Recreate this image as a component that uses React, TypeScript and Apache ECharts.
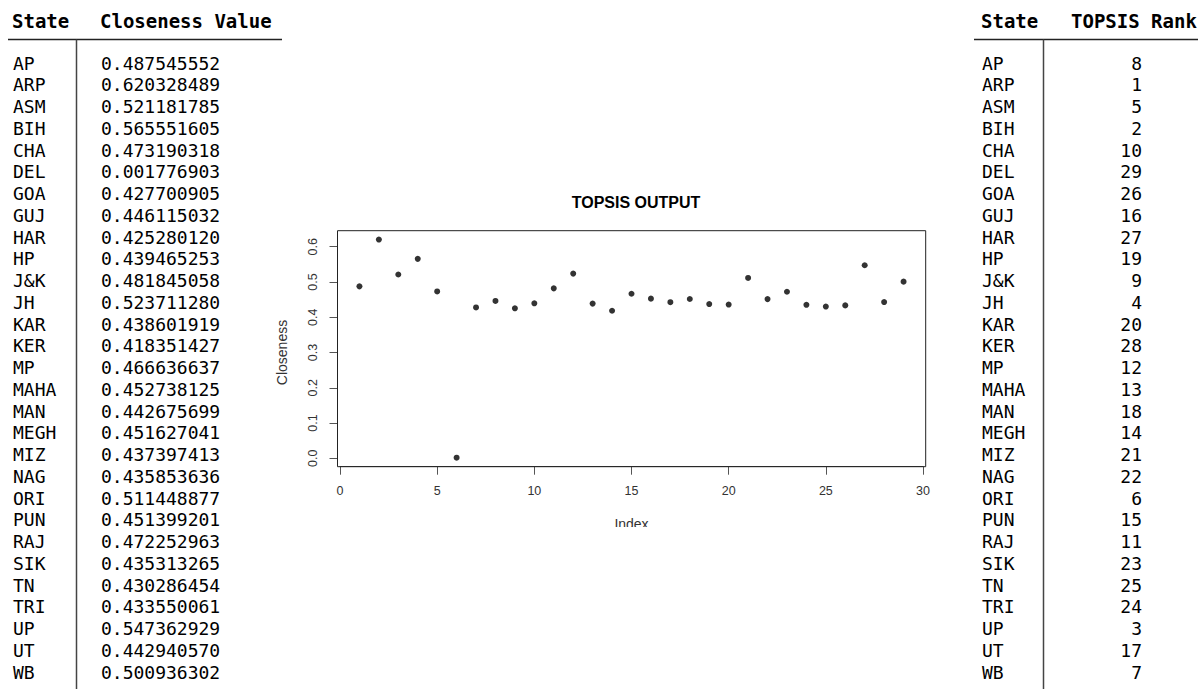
import React, { useEffect, useRef } from 'react';
import * as echarts from 'echarts';

const states = ['AP','ARP','ASM','BIH','CHA','DEL','GOA','GUJ','HAR','HP','J&K','JH','KAR','KER','MP','MAHA','MAN','MEGH','MIZ','NAG','ORI','PUN','RAJ','SIK','TN','TRI','UP','UT','WB'];
const closeness = [0.487545552,0.620328489,0.521181785,0.565551605,0.473190318,0.001776903,0.427700905,0.446115032,0.425280120,0.439465253,0.481845058,0.523711280,0.438601919,0.418351427,0.466636637,0.452738125,0.442675699,0.451627041,0.437397413,0.435853636,0.511448877,0.451399201,0.472252963,0.435313265,0.430286454,0.433550061,0.547362929,0.442940570,0.500936302];
const ranks = [8,1,5,2,10,29,26,16,27,19,9,4,20,28,12,13,18,14,21,22,6,15,11,23,25,24,3,17,7];
const leftHeaders = ['State', 'Closeness Value'];
const rightHeaders = ['State', 'TOPSIS Rank'];
const xTicks = [0, 30, 5];
const yTicks = [0, 0.6, 0.1];

const mono = '"DejaVu Sans Mono", monospace';
const sans = '"Liberation Sans", Arial, sans-serif';

function txt(text: string, x: number, y: number, size: number, weight = 'normal', align = 'left') {
  return {
    type: 'text', x, y, silent: true,
    style: { text, font: `${weight} ${size}px ${mono}`, fill: '#000', textAlign: align, textVerticalAlign: 'middle' },
  };
}
function ln(x1: number, y1: number, x2: number, y2: number, color: string, w: number) {
  return { type: 'line', silent: true, shape: { x1, y1, x2, y2 }, style: { stroke: color, lineWidth: w } };
}

export default function App() {
  const ref = useRef<HTMLDivElement>(null);
  useEffect(() => {
    document.body.style.margin = '0';
    const chart = echarts.init(ref.current!, null, { renderer: 'svg' });
    const rowY0 = 63;
    const rowDy = 21.75;
    const graphic: any[] = [];
    // left table
    graphic.push(txt(leftHeaders[0], 12, 21, 19, 'bold'));
    graphic.push(txt(leftHeaders[1], 100, 21, 19, 'bold'));
    graphic.push(ln(8, 39.5, 282, 39.5, '#222', 1.5));
    graphic.push(ln(76.5, 39.5, 76.5, 689, '#444', 1.5));
    // right table
    graphic.push(txt(rightHeaders[0], 981, 21, 19, 'bold'));
    graphic.push(txt(rightHeaders[1], 1071, 21, 19, 'bold'));
    graphic.push(ln(974, 39.5, 1198, 39.5, '#222', 1.5));
    graphic.push(ln(1043.5, 39.5, 1043.5, 689, '#444', 1.5));
    states.forEach((s, i) => {
      const y = rowY0 + i * rowDy;
      graphic.push(txt(s, 13, y, 18));
      graphic.push(txt(closeness[i].toFixed(9), 101, y, 18));
      graphic.push(txt(s, 982, y, 18));
      graphic.push(txt(String(ranks[i]), 1142, y, 18, 'normal', 'right'));
    });
    // plot box
    graphic.push({ type: 'rect', silent: true, z: 10, shape: { x: 337.5, y: 230.7, width: 588.2, height: 236 }, style: { fill: 'none', stroke: '#222', lineWidth: 1 } });
    // crop of the x-axis title as in the source image
    graphic.push({ type: 'rect', silent: true, z: 100, shape: { x: 590, y: 527, width: 90, height: 24 }, style: { fill: '#fff' } });

    const axisText = { fontFamily: sans, fontSize: 12.5, color: '#333' };
    chart.setOption({
      animation: false,
      backgroundColor: '#fff',
      title: {
        text: 'TOPSIS OUTPUT', left: 631, top: 189, textAlign: 'center',
        textStyle: { fontFamily: sans, fontWeight: 'bold', fontSize: 16, color: '#000' },
      },
      grid: { left: 340, right: 275, top: 246.7, bottom: 230.7 },
      xAxis: {
        type: 'value', min: xTicks[0], max: xTicks[1], interval: xTicks[2], offset: 8.4,
        name: 'Index', nameLocation: 'middle', nameGap: 50,
        nameTextStyle: { fontFamily: sans, fontSize: 14, color: '#333' },
        axisLine: { show: true, onZero: false, lineStyle: { color: '#444', width: 1 } },
        axisTick: { show: true, length: 8, lineStyle: { color: '#555', width: 1 } },
        axisLabel: { ...axisText, margin: 18 },
        splitLine: { show: false },
      },
      yAxis: {
        type: 'value', min: yTicks[0], max: yTicks[1], interval: yTicks[2], offset: 2.5,
        name: 'Closeness', nameLocation: 'middle', nameGap: 49, nameRotate: 90,
        nameTextStyle: { fontFamily: sans, fontSize: 14, color: '#333' },
        axisLine: { show: true, onZero: false, lineStyle: { color: '#444', width: 1 } },
        axisTick: { show: true, length: 8, lineStyle: { color: '#555', width: 1 } },
        axisLabel: { ...axisText, margin: 18, rotate: 90, formatter: (v: number) => v.toFixed(1) },
        splitLine: { show: false },
      },
      series: [{
        type: 'scatter',
        data: closeness.map((v, i) => [i + 1, v]),
        symbol: 'circle', symbolSize: 6, clip: false,
        itemStyle: { color: '#000' },
      }],
      graphic,
    });
    return () => chart.dispose();
  }, []);
  return <div ref={ref} style={{ width: 1198, height: 689 }} />;
}
